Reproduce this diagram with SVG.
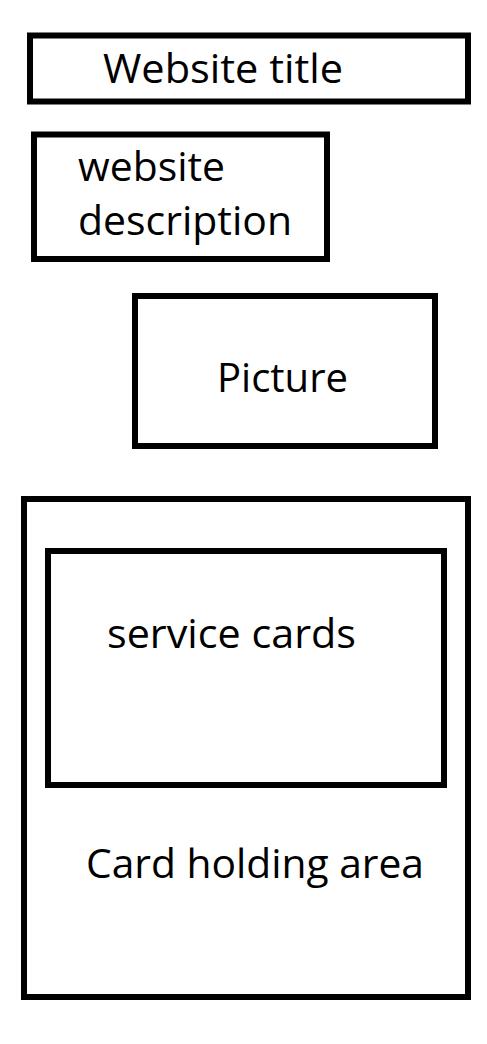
<svg xmlns="http://www.w3.org/2000/svg" width="487" height="1044" viewBox="0 0 487 1044">
<style>
.box{fill:none;stroke:#000;stroke-width:6}
.lbl{font-family:"Open Sans","Noto Sans","Liberation Sans",sans-serif;font-size:41px;fill:#000}
</style>
<rect width="487" height="1044" fill="#fff"/>
<g id="title">
<rect class="box" x="30" y="35.5" width="438" height="66"/>
<text class="lbl" x="103" y="83" textLength="240" lengthAdjust="spacingAndGlyphs">Website title</text>
</g>
<g id="description">
<rect class="box" x="34" y="134.5" width="293" height="124.5"/>
<text class="lbl" x="78" y="181" textLength="147" lengthAdjust="spacingAndGlyphs">website</text>
<text class="lbl" x="78" y="235" textLength="214" lengthAdjust="spacingAndGlyphs">description</text>
</g>
<g id="picture">
<rect class="box" x="135" y="296" width="300" height="150"/>
<text class="lbl" x="217" y="392" textLength="131" lengthAdjust="spacingAndGlyphs">Picture</text>
</g>
<g id="card-holding-area">
<rect class="box" x="24" y="499" width="444" height="498"/>
<text class="lbl" x="86" y="878" textLength="338" lengthAdjust="spacingAndGlyphs">Card holding area</text>
</g>
<g id="service-cards">
<rect class="box" x="48" y="551" width="396" height="234"/>
<text class="lbl" x="107" y="648" textLength="249" lengthAdjust="spacingAndGlyphs">service cards</text>
</g>
<g id="connectors"></g>
</svg>
